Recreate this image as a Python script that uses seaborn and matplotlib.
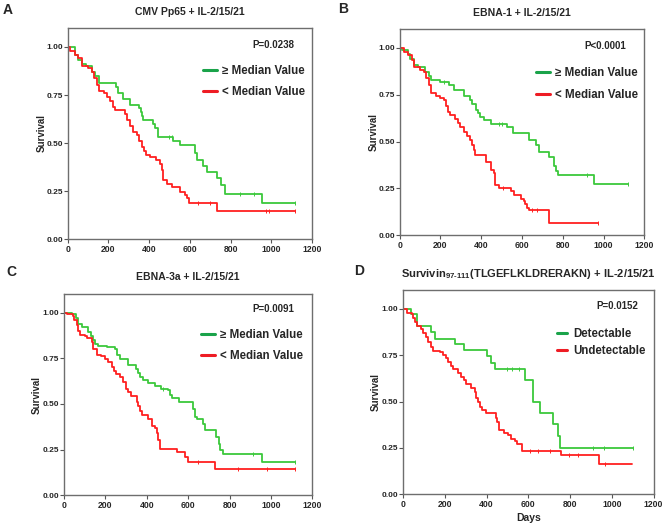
import numpy as np
import matplotlib
matplotlib.use("Agg")
import matplotlib.pyplot as plt
import seaborn as sns
from matplotlib.lines import Line2D

# ---------------- data ----------------
# Panel A : CMV Pp65
tA_g = [0, 36, 52, 69, 90, 118, 134, 152, 237, 249, 270, 306, 350, 358, 364, 371, 420, 428, 445, 518,
        551, 624, 633, 665, 682, 731, 755, 772, 955, 1115]
sA_g = [1.0, .96, .93, .91, .90, .87, .85, .815, .79, .76, .73, .70, .68, .66, .64, .62, .60, .58, .53, .51,
        .49, .45, .41, .38, .35, .32, .28, .235, .19, .19]
cA_g = [500, 512, 845, 915, 1115]
tA_r = [0, 11, 36, 52, 69, 101, 118, 131, 142, 155, 178, 195, 208, 222, 232, 281, 293, 306, 322, 338,
        351, 363, 375, 387, 404, 436, 452, 461, 466, 486, 510, 551, 575, 585, 595, 731, 1115]
sA_r = [1.0, .98, .96, .94, .90, .89, .87, .84, .80, .77, .76, .74, .72, .69, .67, .65, .62, .59, .56, .54,
        .51, .48, .46, .44, .43, .41, .39, .36, .31, .29, .27, .245, .23, .215, .19, .145, .145]
cA_r = [640, 700, 975, 990, 1115]

# Panel B : EBNA-1
tB_g = [0, 12, 41, 52, 69, 90, 126, 142, 155, 200, 240, 265, 314, 347, 355, 374, 385, 396, 412, 450,
        526, 554, 633, 669, 685, 734, 755, 765, 775, 955, 1120]
sB_g = [1.0, .99, .97, .94, .91, .90, .87, .85, .83, .82, .80, .775, .745, .72, .70, .67, .65, .63, .615, .595,
        .575, .545, .51, .48, .445, .415, .37, .34, .32, .275, .275]
cB_g = [216, 486, 502, 918, 1120]
tB_r = [0, 20, 41, 61, 69, 101, 118, 131, 142, 155, 178, 200, 216, 225, 237, 249, 273, 286, 298, 314,
        330, 347, 355, 363, 371, 423, 449, 461, 466, 489, 548, 560, 597, 608, 616, 625, 633, 731, 973]
sB_r = [1.0, .98, .96, .935, .90, .88, .87, .84, .80, .76, .745, .735, .72, .69, .66, .64, .62, .60, .575, .55,
        .53, .51, .48, .455, .43, .39, .35, .33, .27, .25, .235, .215, .19, .18, .165, .145, .135, .065, .065]
cB_r = [505, 650, 672, 973]

# Panel C : EBNA-3a
tC_g = [0, 37, 58, 69, 85, 118, 129, 142, 150, 166, 206, 246, 254, 271, 311, 348, 359, 367, 383, 408,
        440, 467, 504, 510, 522, 557, 625, 633, 641, 673, 681, 734, 750, 754, 770, 955, 1116]
sC_g = [1.0, .99, .97, .94, .92, .895, .87, .85, .83, .815, .81, .80, .77, .745, .715, .69, .67, .65, .63, .615,
        .60, .58, .575, .55, .53, .51, .47, .43, .42, .39, .355, .32, .28, .25, .225, .18, .18]
cC_g = [480, 915, 1116]
tC_r = [0, 13, 42, 50, 61, 69, 77, 100, 110, 134, 142, 158, 177, 198, 214, 230, 240, 253, 271, 287,
        300, 311, 322, 351, 359, 367, 375, 408, 424, 440, 448, 456, 464, 544, 585, 598, 730, 1116]
sC_r = [1.0, .99, .98, .96, .93, .90, .88, .87, .86, .84, .80, .77, .76, .745, .73, .70, .68, .665, .645, .62,
        .58, .565, .545, .51, .49, .46, .44, .42, .38, .37, .34, .30, .255, .235, .21, .18, .145, .145]
cC_r = [650, 843, 980, 1116]

# Panel D : Survivin 97-111
tD_g = [0, 39, 69, 134, 154, 250, 291, 402, 420, 439, 586, 624, 655, 718, 742, 750, 1104]
sD_g = [1.0, .97, .905, .875, .84, .81, .78, .745, .71, .675, .615, .50, .44, .379, .316, .25, .25]
cD_g = [499, 523, 554, 909, 964, 1104]
tD_r = [0, 19, 43, 50, 58, 69, 87, 98, 110, 121, 134, 145, 176, 192, 208, 216, 231, 241, 263, 279,
        290, 302, 326, 345, 352, 358, 369, 377, 397, 444, 452, 460, 482, 505, 518, 537, 545, 571, 757, 938, 1096]
sD_r = [1.0, .98, .97, .95, .93, .905, .89, .87, .85, .82, .795, .775, .765, .75, .735, .715, .69, .675, .655, .635,
        .615, .595, .575, .55, .52, .50, .47, .455, .44, .41, .39, .345, .33, .32, .30, .29, .27, .235, .21, .165, .165]
cD_r = [608, 647, 702, 797, 836, 968]

titles = ["CMV Pp65 + IL-2/15/21", "EBNA-1 + IL-2/15/21", "EBNA-3a + IL-2/15/21",
          "Survivin$_{\\mathbf{97\\text{-}111}}$(TLGEFLKLDRERAKN) + IL-2/15/21"]
pvalues = ["P=0.0238", "P<0.0001", "P=0.0091", "P=0.0152"]
letters = ["A", "B", "C", "D"]
labels_med = ["\u2265 Median Value", "< Median Value"]
labels_det = ["Detectable", "Undetectable"]
xticks = [0, 200, 400, 600, 800, 1000, 1200]
yticks = [0.0, 0.25, 0.50, 0.75, 1.00]

# ---------------- style ----------------
sns.set_theme(style="white")
plt.rcParams["font.family"] = ["Liberation Sans", "DejaVu Sans"]
plt.rcParams["font.weight"] = "bold"
plt.rcParams["mathtext.fontset"] = "custom"
plt.rcParams["mathtext.bf"] = "Liberation Sans:bold"
plt.rcParams["mathtext.rm"] = "Liberation Sans:bold"
plt.rcParams["mathtext.default"] = "bf"

GREEN = "#3cc83c"
RED = "#ff2020"
LEG_GREEN = "#1aa34a"
LEG_RED = "#ee1c24"

W, H = 664, 523
fig = plt.figure(figsize=(W / 100, H / 100), dpi=100)

def px_axes(left, top, right, bottom):
    return fig.add_axes([left / W, 1 - bottom / H, (right - left) / W, (bottom - top) / H])

axes_px = [(67.7, 27.7, 312.0, 239.3),
           (399.7, 29.3, 644.3, 235.0),
           (64.0, 294.3, 312.3, 495.3),
           (403.0, 290.3, 653.5, 494.3)]
title_y = [1.074, 1.078, 1.0836, 1.081]
title_fs = [7.5, 7.5, 7.5, 8.0]
ylab_x = [-0.086, -0.086, -0.088, -0.090]
pval_xy = [(0.84, 0.92), (0.84, 0.92), (0.843, 0.928), (0.854, 0.925)]
letter_pos = [(8, 10), (343, 9), (11, 272), (359, 271)]
leg_anchor = [(0.554, 0.824), (0.557, 0.815), (0.552, 0.829), (0.616, 0.817)]
leg_spacing = [0.78, 0.87, 0.84, 0.43]
leg_hlen = [1.2, 1.2, 1.2, 0.8]
leg_hpad = [0.43, 0.43, 0.43, 0.57]

data = [
    ((tA_g, sA_g, cA_g), (tA_r, sA_r, cA_r)),
    ((tB_g, sB_g, cB_g), (tB_r, sB_r, cB_r)),
    ((tC_g, sC_g, cC_g), (tC_r, sC_r, cC_r)),
    ((tD_g, sD_g, cD_g), (tD_r, sD_r, cD_r)),
]

def surv_at(t, s, c):
    t = np.asarray(t); s = np.asarray(s)
    idx = np.searchsorted(t, np.asarray(c), side="right") - 1
    return s[idx]

for i in range(4):
    ax = px_axes(*axes_px[i])
    (tg, sg, cg), (tr, sr, cr) = data[i]
    for (t, s, c), col in (((tg, sg, cg), GREEN), ((tr, sr, cr), RED)):
        sns.lineplot(x=t, y=s, ax=ax, drawstyle="steps-post", estimator=None, sort=False,
                     color=col, lw=1.3)
        ax.plot(c, surv_at(t, s, c), ls="none", marker="|", ms=3, mew=0.7, color=col)
    ax.set_xlim(0, 1200)
    ax.set_ylim(0, 1.1)
    ax.set_xticks(xticks)
    ax.set_xticklabels([str(x) for x in xticks])
    ax.set_yticks(yticks)
    ax.set_yticklabels([f"{y:.2f}" for y in yticks])
    ax.tick_params(axis="y", labelsize=6.0, length=3, width=0.8, color="#555555", pad=0.5, left=True)
    ax.tick_params(axis="x", labelsize=6.2, length=3, width=0.8, color="#555555", pad=1.2, bottom=True)
    for lab in ax.get_xticklabels() + ax.get_yticklabels():
        lab.set_fontweight("bold")
    for sp in ax.spines.values():
        sp.set_color("#6e6e6e")
        sp.set_linewidth(1.0)
    ax.set_ylabel("Survival", fontsize=7, fontweight="bold")
    ax.yaxis.set_label_coords(ylab_x[i], 0.5)
    if i == 3:
        ax.set_xlabel("Days", fontsize=7.5, fontweight="bold")
        ax.xaxis.set_label_coords(0.5, -0.090)
    else:
        ax.set_xlabel("")
    ax.text(0.5, title_y[i], titles[i], transform=ax.transAxes, ha="center", va="center",
            fontsize=title_fs[i], fontweight="bold")
    ax.text(pval_xy[i][0], pval_xy[i][1], pvalues[i], transform=ax.transAxes, ha="center", va="center",
            fontsize=7, fontweight="bold")
    labs = labels_det if i == 3 else labels_med
    handles = [Line2D([], [], color=LEG_GREEN, lw=2.2), Line2D([], [], color=LEG_RED, lw=2.2)]
    ax.legend(handles, labs, loc="upper left", bbox_to_anchor=leg_anchor[i], frameon=False,
              prop={"size": 8.3, "weight": "bold"}, handlelength=leg_hlen[i],
              handletextpad=leg_hpad[i], labelspacing=leg_spacing[i], borderpad=0, borderaxespad=0)
    lx, ly = letter_pos[i]
    fig.text(lx / W, 1 - ly / H, letters[i], ha="center", va="center", fontsize=10, fontweight="bold")

fig.savefig("out.png", dpi=100)
